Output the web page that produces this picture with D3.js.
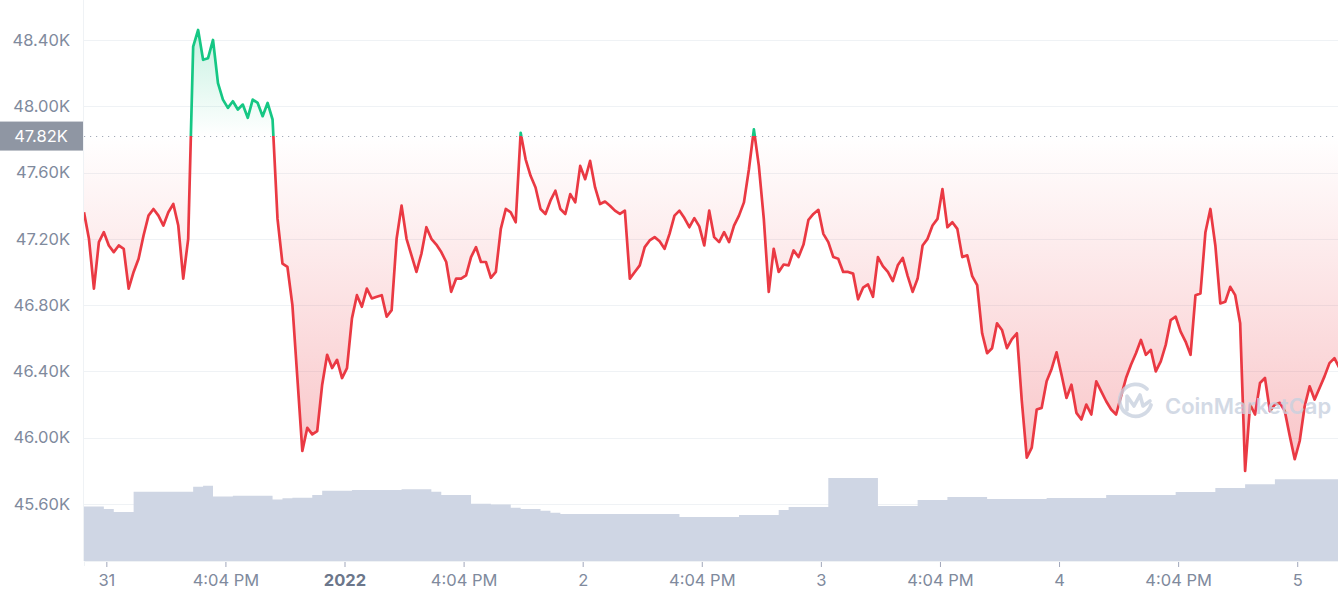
<!DOCTYPE html>
<html><head><meta charset="utf-8">
<script src="https://cdn.jsdelivr.net/npm/d3@7"></script>
<style>body{margin:0;background:#fff}svg{display:block;font-family:Inter,"Noto Sans",sans-serif}</style>
</head><body><svg id="c" width="1338" height="600"></svg>
<script>
// ---------- DATA ----------
const startTime = "2021-12-30T21:45:00";
const stepMinutes = 30;
const prices = [
47360,47200,46900,47180,47240,47160,47120,47160,47140,46900,
47000,47080,47220,47340,47380,47340,47280,47360,47410,47280,
46960,47200,48360,48460,48280,48290,48400,48140,48040,47990,
48030,47980,48010,47930,48040,48020,47940,48020,47920,47320,
47050,47030,46800,46360,45920,46060,46020,46040,46320,46500,
46420,46470,46360,46420,46720,46860,46790,46900,46840,46850,
46860,46730,46770,47200,47400,47200,47100,47000,47110,47270,
47200,47165,47120,47060,46880,46960,46960,46980,47090,47150,
47060,47060,46965,47000,47260,47380,47360,47300,47840,47680,
47580,47510,47380,47350,47430,47490,47380,47350,47470,47420,
47640,47560,47670,47510,47410,47425,47400,47370,47350,47370,
46960,47000,47040,47150,47190,47210,47185,47140,47230,47340,
47370,47325,47270,47325,47275,47160,47370,47210,47180,47240,
47180,47280,47340,47420,47620,47860,47640,47320,46880,47140,
47000,47045,47040,47130,47090,47165,47315,47350,47375,47230,
47180,47090,47080,47000,47000,46990,46835,46905,46925,46850,
47090,47035,47000,46945,47040,47085,46975,46880,46960,47160,
47200,47280,47320,47500,47270,47300,47260,47090,47100,46975,
46920,46630,46510,46540,46690,46650,46540,46595,46630,46220,
45880,45940,46170,46180,46340,46415,46515,46380,46240,46320,
46150,46110,46200,46140,46340,46280,46220,46170,46140,46250,
46360,46440,46510,46590,46500,46530,46400,46460,46560,46710,
46730,46640,46580,46500,46860,46870,47240,47380,47160,46810,
46820,46910,46860,46690,45800,46200,46140,46330,46360,46160,
46200,46210,46160,46010,45870,45980,46190,46310,46230,46300,
46370,46450,46480,46420
];
const volStepMinutes = 60;
const volumes = [ // 24h volume, $B
19.6,19.6,18.7,17.7,17.7,25.0,25.0,25.0,25.0,25.0,
25.0,26.8,27.1,23.2,23.2,23.5,23.5,23.5,23.5,22.2,
22.6,22.8,22.8,23.8,25.3,25.3,25.3,25.6,25.6,25.6,
25.6,25.6,25.9,25.9,25.9,25.0,23.8,23.8,23.8,20.6,
20.6,20.4,20.4,19.2,18.7,18.7,18.1,17.4,16.9,16.9,
16.9,16.9,16.9,16.9,16.9,16.9,16.9,16.9,16.9,16.9,
15.9,15.9,15.9,15.9,15.9,15.9,16.6,16.6,16.6,16.6,
18.4,19.5,19.5,19.5,19.5,29.9,29.9,29.9,29.9,29.9,
19.8,19.8,19.8,19.8,22.0,22.0,22.0,23.1,23.1,23.1,
23.1,22.3,22.3,22.3,22.3,22.3,22.3,22.7,22.7,22.7,
22.7,22.7,22.7,23.8,23.8,23.8,23.8,23.8,23.8,23.8,
24.9,24.9,24.9,24.9,26.3,26.3,26.3,27.7,27.7,27.7,
29.5,29.5,29.5,29.5,29.5,29.5,29.5,29.5
];
const openPrice = 47820;
const yTicks = [45600,46000,46400,46800,47200,47600,48000,48400];
const xTickTimes = ["2021-12-31T00:00","2021-12-31T12:00","2022-01-01T00:00","2022-01-01T12:00",
  "2022-01-02T00:00","2022-01-02T12:00","2022-01-03T00:00","2022-01-03T12:00",
  "2022-01-04T00:00","2022-01-04T12:00","2022-01-05T00:00"];
const xTickLabels = ["31","4:04 PM","2022","4:04 PM","2","4:04 PM","3","4:04 PM","4","4:04 PM","5"];

// ---------- CHART ----------
const L = 84, R = 1338, T = 0, B = 561;
const FS = 16.5;
const svg = d3.select("#c");
const t0 = new Date(startTime);
const pts = prices.map((p,i)=>({t:new Date(+t0 + i*stepMinutes*60000), v:p}));
const vpts = volumes.map((v,i)=>({t:new Date(+t0 + i*volStepMinutes*60000), v:v}));
const tEnd = pts[pts.length-1].t;

const x = d3.scaleTime().domain([t0, tEnd]).range([L, 1339.4]);
const y = d3.scaleLinear().domain([45256, 48641]).range([B, T]);
const vy = d3.scaleLinear().domain([0, 40]).range([B, 450]);

const defs = svg.append("defs");
defs.append("clipPath").attr("id","plot").append("rect").attr("x",L).attr("y",T).attr("width",R-L).attr("height",B-T);
const yb = y(openPrice);
defs.append("clipPath").attr("id","above").append("rect").attr("x",L).attr("y",T).attr("width",R-L).attr("height",yb-T);
defs.append("clipPath").attr("id","below").append("rect").attr("x",L).attr("y",yb).attr("width",R-L).attr("height",B-yb);

const gG = defs.append("linearGradient").attr("id","gGreen").attr("gradientUnits","userSpaceOnUse")
  .attr("x1",0).attr("x2",0).attr("y1",y(48460)).attr("y2",yb);
gG.append("stop").attr("offset",0).attr("stop-color","#16c784").attr("stop-opacity",0.24);
gG.append("stop").attr("offset",1).attr("stop-color","#16c784").attr("stop-opacity",0.0);
const gR = defs.append("linearGradient").attr("id","gRed").attr("gradientUnits","userSpaceOnUse")
  .attr("x1",0).attr("x2",0).attr("y1",yb).attr("y2",y(45800));
gR.append("stop").attr("offset",0).attr("stop-color","#ea3943").attr("stop-opacity",0.0);
gR.append("stop").attr("offset",1).attr("stop-color","#ea3943").attr("stop-opacity",0.3);

// gridlines
svg.append("g").selectAll("line").data(yTicks).join("line")
  .attr("x1",L).attr("x2",R).attr("y1",d=>Math.round(y(d))+0.5).attr("y2",d=>Math.round(y(d))+0.5)
  .attr("stroke","#eff2f5").attr("stroke-width",1);
svg.append("line").attr("x1",L-0.5).attr("x2",L-0.5).attr("y1",0).attr("y2",B).attr("stroke","#eff2f5");

const plot = svg.append("g").attr("clip-path","url(#plot)");
// volume
plot.append("path").datum(vpts)
  .attr("d", d3.area().curve(d3.curveStepAfter).x(d=>x(d.t)).y0(B).y1(d=>vy(d.v)))
  .attr("fill","#cfd6e4");

// price fills
const area = d3.area().x(d=>x(d.t)).y0(yb).y1(d=>y(d.v));
plot.append("g").attr("clip-path","url(#above)").append("path").datum(pts).attr("d",area).attr("fill","url(#gGreen)");
plot.append("g").attr("clip-path","url(#below)").append("path").datum(pts).attr("d",area).attr("fill","url(#gRed)");

// dotted open line
svg.append("line").attr("x1",L).attr("x2",R).attr("y1",Math.round(yb)+0.5).attr("y2",Math.round(yb)+0.5)
  .attr("stroke","#a3aab7").attr("stroke-width",1).attr("stroke-dasharray","1.2,4.8");

// price line
const line = d3.line().x(d=>x(d.t)).y(d=>y(d.v));
plot.append("g").attr("clip-path","url(#above)").append("path").datum(pts).attr("d",line)
  .attr("fill","none").attr("stroke","#16c784").attr("stroke-width",2.7).attr("stroke-linejoin","round");
plot.append("g").attr("clip-path","url(#below)").append("path").datum(pts).attr("d",line)
  .attr("fill","none").attr("stroke","#ea3943").attr("stroke-width",2.7).attr("stroke-linejoin","round");

// x axis
const xa = svg.append("g").attr("transform",`translate(0,${B})`)
  .call(d3.axisBottom(x).tickValues(xTickTimes.map(s=>new Date(s))).tickFormat((d,i)=>xTickLabels[i]).tickSize(5).tickPadding(8));
xa.select(".domain").attr("stroke","#eff2f5");
xa.selectAll(".tick line").attr("stroke","#a1a7bb").attr("transform","translate(0,1)");
xa.selectAll(".tick text").attr("font-size",FS).attr("font-family","Inter")
  .attr("font-weight",(d,i)=>xTickLabels[i]==="2022"?700:400)
  .attr("fill",(d,i)=>xTickLabels[i]==="2022"?"#6c778b":"#808a9d");

// y axis labels
const ya = svg.append("g").attr("transform",`translate(${L-1},0)`)
  .call(d3.axisLeft(y).tickValues(yTicks).tickFormat(d=>(d/1000).toFixed(2)+"K").tickSize(0).tickPadding(13));
ya.select(".domain").remove();
ya.selectAll(".tick text").attr("fill","#808a9d").attr("font-size",FS).attr("font-family","Inter");

// open price badge
svg.append("rect").attr("x",0).attr("y",yb-14.5).attr("width",L-1).attr("height",29).attr("fill","#8f96a3");
svg.append("text").attr("x",41).attr("y",yb).attr("dy","0.35em").attr("text-anchor","middle")
  .attr("fill","#fff").attr("font-size",FS).attr("font-family","Inter").text((openPrice/1000).toFixed(2)+"K");

// watermark
const wm = svg.append("g").attr("opacity",0.8);
wm.append("path").attr("d","M1151,405 A16,16 0 1 1 1147,389").attr("fill","none").attr("stroke","#c9d1df").attr("stroke-width",3.8).attr("stroke-linecap","round");
wm.append("path").attr("d","M1127,410 L1127,396 L1134,406 L1140,395 L1143,406 L1150,401").attr("fill","none").attr("stroke","#c9d1df").attr("stroke-width",3.6).attr("stroke-linecap","round").attr("stroke-linejoin","round");
wm.append("text").attr("x",1165).attr("y",414).attr("font-size",22).attr("font-weight",600).attr("font-family","Inter").attr("fill","#c9d1df").text("CoinMarketCap");
</script></body></html>
